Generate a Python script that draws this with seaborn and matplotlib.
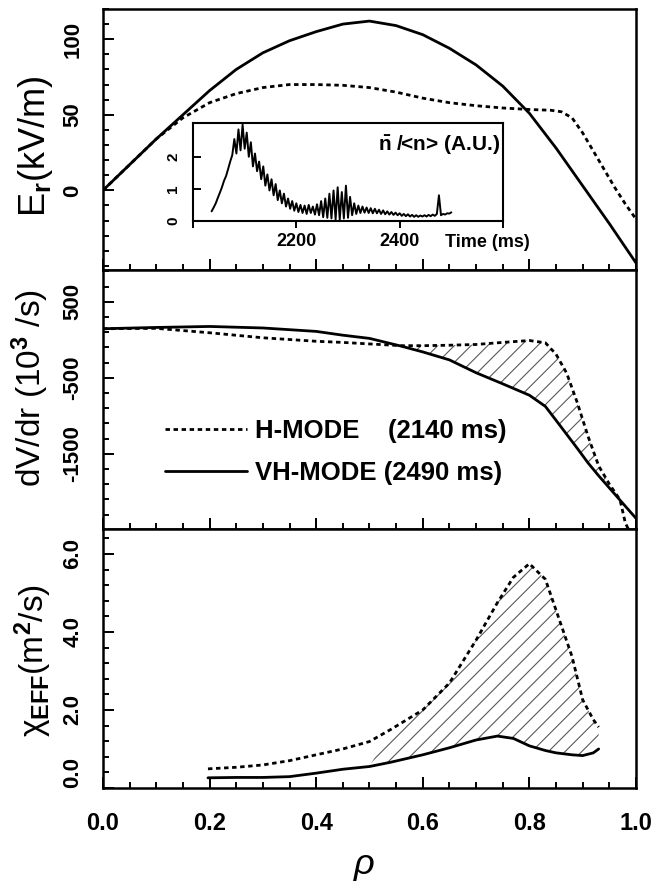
import numpy as np
import matplotlib
matplotlib.use("Agg")
import matplotlib.pyplot as plt
from matplotlib.ticker import MultipleLocator, FixedLocator
import seaborn as sns

# === values ===
# top panel: E_r (kV/m)
rho_er_vh = [0.0, 0.05, 0.10, 0.15, 0.20, 0.25, 0.30, 0.35, 0.40, 0.45, 0.50,
             0.55, 0.60, 0.65, 0.70, 0.75, 0.80, 0.85, 0.90, 0.95, 1.0]
er_vh = [0, 17, 34, 50, 66, 80, 91, 99, 105, 110, 112,
         109, 103, 94, 83, 69, 51, 28, 3, -22, -48]
rho_er_h = [0.0, 0.05, 0.10, 0.15, 0.20, 0.25, 0.30, 0.35, 0.40, 0.45, 0.50,
            0.55, 0.60, 0.65, 0.70, 0.75, 0.80, 0.84, 0.86, 0.88, 0.90,
            0.92, 0.94, 0.96, 0.98, 1.0]
er_h = [0, 17, 34, 48, 58, 64, 68, 70, 70, 69.5, 68,
        65, 61, 58, 56, 54.5, 53.5, 53, 52, 48, 38,
        26, 14, 2, -9, -19]

# middle panel: dV/dr (10^3 /s)
rho_dv = [0.0, 0.1, 0.2, 0.3, 0.4, 0.45, 0.5, 0.56, 0.6, 0.65, 0.7, 0.75,
          0.8, 0.83, 0.85, 0.87, 0.89, 0.91, 0.93, 0.95, 0.97, 0.98, 1.0]
dv_vh = [145, 162, 175, 155, 110, 60, 18, -85, -160, -265, -434, -580,
         -730, -877, -1060, -1245, -1430, -1620, -1790, -1950, -2110, -2190, -2350]
dv_h = [145, 150, 92, 26, -20, -35, -55, -78, -78, -72, -62, -35,
        -10, -40, -190, -440, -830, -1270, -1660, -1900, -2105, -2410, -2700]

# bottom panel: chi_EFF (m^2/s)
rho_chi = [0.197, 0.25, 0.30, 0.35, 0.40, 0.45, 0.50, 0.54, 0.60, 0.65,
           0.70, 0.74, 0.77, 0.80, 0.83, 0.85, 0.88, 0.90, 0.92, 0.93]
chi_vh = [0.26, 0.27, 0.27, 0.29, 0.38, 0.48, 0.55, 0.66, 0.85, 1.03,
          1.23, 1.33, 1.27, 1.08, 0.96, 0.90, 0.85, 0.83, 0.90, 1.0]
chi_h = [0.49, 0.53, 0.59, 0.70, 0.85, 1.0, 1.19, 1.50, 2.0, 2.69,
         3.79, 4.75, 5.4, 5.75, 5.35, 4.56, 3.37, 2.26, 1.75, 1.56]

# inset: n~/<n> (A.U.) vs time, sampled every 4 ms
t_inset = np.arange(2036, 2501, 4)
n_inset = [0.30, 0.42, 0.55, 0.72, 0.88, 1.05, 1.25, 1.40, 1.62, 1.85,   # 2036-2072
           2.05, 2.55, 2.10, 2.85, 2.20, 3.00, 2.25, 2.75, 2.00, 2.45,   # 2076-2112
           1.70, 2.10, 1.55, 1.85, 1.30, 1.70, 1.10, 1.45, 0.95, 1.30,   # 2116-2152
           0.80, 1.15, 0.65, 0.95, 0.55, 0.85, 0.45, 0.70, 0.38, 0.62,   # 2156-2192
           0.32, 0.55, 0.28, 0.50, 0.25, 0.48, 0.22, 0.50, 0.25, 0.45,   # 2196-2232
           0.20, 0.52, 0.18, 0.62, 0.12, 0.70, 0.10, 0.85, 0.08, 0.95,   # 2236-2272
           0.05, 1.05, 0.04, 0.90, 0.08, 1.10, 0.10, 0.75, 0.18, 0.55,   # 2276-2312
           0.22, 0.48, 0.25, 0.45, 0.26, 0.42, 0.25, 0.40, 0.24, 0.38,   # 2316-2352
           0.24, 0.35, 0.22, 0.33, 0.21, 0.30, 0.20, 0.28, 0.19, 0.26,   # 2356-2392
           0.18, 0.24, 0.16, 0.22, 0.15, 0.21, 0.14, 0.19, 0.13, 0.18,   # 2396-2432
           0.13, 0.17, 0.14, 0.18, 0.14, 0.19, 0.15, 0.20, 0.16, 0.22,   # 2436-2472
           0.80, 0.18, 0.22, 0.20, 0.24, 0.23, 0.27]                     # 2476-2500

legend_labels = ["H-MODE    (2140 ms)", "VH-MODE (2490 ms)"]
x_ticks = [0.0, 0.2, 0.4, 0.6, 0.8, 1.0]

# === style ===
sns.set_style("ticks", {"axes.edgecolor": "black", "text.color": "black",
                        "xtick.color": "black", "ytick.color": "black",
                        "axes.labelcolor": "black", "axes.axisbelow": False})
plt.rcParams["font.family"] = ["Liberation Sans", "DejaVu Sans"]
plt.rcParams["font.weight"] = "bold"
plt.rcParams["mathtext.fontset"] = "custom"
plt.rcParams["mathtext.rm"] = "Liberation Sans:bold"
plt.rcParams["mathtext.default"] = "rm"
plt.rcParams["hatch.linewidth"] = 0.8
plt.rcParams["hatch.color"] = "0.35"

DOT = (0, (1.6, 1.3))
LW = 2.0


def tick_marks(ax, which_axis, locs, marker, size, width):
    """Tick marks drawn as markers at the axis locator positions."""
    if which_axis == "x":
        lo, hi = sorted(ax.get_xlim())
        locs = [v for v in locs if lo - 1e-9 <= v <= hi + 1e-9]
        ax.plot(locs, [0] * len(locs), transform=ax.get_xaxis_transform(),
                ls="none", marker=marker, ms=size, mew=width, color="black",
                clip_on=False, zorder=3)
    else:
        lo, hi = sorted(ax.get_ylim())
        locs = [v for v in locs if lo - 1e-9 <= v <= hi + 1e-9]
        ax.plot([0] * len(locs), locs, transform=ax.get_yaxis_transform(),
                ls="none", marker=marker, ms=size, mew=width, color="black",
                clip_on=False, zorder=3)


fig = plt.figure(figsize=(6.6, 8.81), dpi=100)
ax_er = fig.add_axes([0.156, 0.6937, 0.8076, 0.2961])
ax_dv = fig.add_axes([0.156, 0.3996, 0.8076, 0.2941])
ax_chi = fig.add_axes([0.156, 0.1056, 0.8076, 0.2940])
axes = [ax_er, ax_dv, ax_chi]
ins = fig.add_axes([193 / 660, 1 - 221 / 881, 310 / 660, 98 / 881])

# --- top: E_r ---
sns.lineplot(x=rho_er_h, y=er_h, ax=ax_er, color="black", lw=LW, linestyle=DOT, legend=False)
sns.lineplot(x=rho_er_vh, y=er_vh, ax=ax_er, color="black", lw=LW, legend=False)
ax_er.set_ylim(-52.6, 120)
ax_er.set_yticks([0, 50, 100])
ax_er.set_yticklabels(["0", "50", "100"], rotation=90, va="center")
ax_er.yaxis.set_minor_locator(MultipleLocator(10))

# --- middle: dV/dr ---
sns.lineplot(x=rho_dv, y=dv_h, ax=ax_dv, color="black", lw=LW, linestyle=DOT,
             label=legend_labels[0])
sns.lineplot(x=rho_dv, y=dv_vh, ax=ax_dv, color="black", lw=LW, label=legend_labels[1])
rd = np.array(rho_dv)
ax_dv.fill_between(rho_dv, dv_vh, dv_h, where=(rd >= 0.56) & (np.array(dv_h) >= np.array(dv_vh)),
                   interpolate=True, facecolor="none", edgecolor="0.35", hatch="//", linewidth=0)
ax_dv.set_ylim(-2490, 920)
ax_dv.set_yticks([500, -500, -1500])
ax_dv.set_yticklabels(["500", "-500", "-1500"], rotation=90, va="center")
ax_dv.yaxis.set_minor_locator(FixedLocator(np.arange(-2300, 901, 200)))
ax_dv.legend(loc="center left", bbox_to_anchor=(0.116, 0.296), frameon=False,
             fontsize=18.5, handlelength=3.2, handletextpad=0.3, labelspacing=0.7,
             borderpad=0, borderaxespad=0)

# --- bottom: chi_EFF ---
sns.lineplot(x=rho_chi, y=chi_h, ax=ax_chi, color="black", lw=LW, linestyle=DOT, legend=False)
sns.lineplot(x=rho_chi, y=chi_vh, ax=ax_chi, color="black", lw=LW, legend=False)
rc = np.array(rho_chi)
ax_chi.fill_between(rho_chi, chi_vh, chi_h, where=rc >= 0.54, interpolate=True,
                    facecolor="none", edgecolor="0.35", hatch="//", linewidth=0)
ax_chi.set_ylim(0, 6.64)
ax_chi.set_yticks([0, 2, 4, 6])
ylabs = ax_chi.set_yticklabels(["0.0", "2.0", "4.0", "6.0"], rotation=90, va="center")
ylabs[0].set_va("bottom")
ax_chi.yaxis.set_minor_locator(MultipleLocator(0.4))

for ax in axes:
    ax.set_xlim(0, 1)
    ax.set_xticks(x_ticks)
    ax.xaxis.set_minor_locator(MultipleLocator(0.05))
ax_er.set_xticklabels([])
ax_dv.set_xticklabels([])
ax_chi.set_xticklabels([f"{v:.1f}" for v in x_ticks])

ax_er.set_ylabel("E$_r$(kV/m)", fontsize=26, va="center")
ax_er.yaxis.set_label_coords(-0.126, 0.475)
ax_dv.set_ylabel("dV/dr (10$^3$ /s)", fontsize=24, va="center")
ax_dv.yaxis.set_label_coords(-0.137, 0.544)
ax_chi.set_ylabel("χ$_{EFF}$(m$^2$/s)", fontsize=24, va="center")
ax_chi.yaxis.set_label_coords(-0.131, 0.494)
ax_er.set_xlabel("")
ax_dv.set_xlabel("")
ax_chi.set_xlabel("ρ", fontsize=26, fontstyle="italic", fontweight="normal", va="center")
ax_chi.xaxis.set_label_coords(0.49, -0.297)

# --- inset ---
ins.set_facecolor("white")
sns.lineplot(x=t_inset, y=n_inset, ax=ins, color="black", lw=1.4, legend=False)
ins.set_xlim(2000, 2600)
ins.set_ylim(0, 3.05)
ins.set_xticks([2000, 2200, 2400, 2600])
ins.set_xticklabels(["", "2200", "2400", ""])
ins.set_yticks([0, 1, 2])
ins.set_yticklabels(["0", "1", "2"], rotation=90, va="center")
ins.set_xlabel("")
ins.set_ylabel("")
ins.text(0.813, -0.224, "Time (ms)", transform=ins.transAxes, fontsize=13,
         ha="left", va="center")
ins.text(0.99, 0.776, r"$\bar{n}$ /<n> (A.U.)", transform=ins.transAxes, fontsize=15,
         ha="right", va="center")

# tick styling applied last
for ax in axes:
    ax.tick_params(which="both", direction="in", length=8, width=1.3, color="black",
                   left=True, bottom=True, right=False, top=False)
    ax.tick_params(which="minor", length=4, width=1.2)
    ax.tick_params(axis="y", labelsize=16, pad=14)
    ax.tick_params(axis="x", labelsize=17, pad=17)
    for s in ax.spines.values():
        s.set_linewidth(1.8)
ins.tick_params(axis="x", direction="out", length=5, width=1.2, labelsize=13, pad=4,
                color="black", bottom=True)
ins.tick_params(axis="y", direction="in", length=6, width=1.2, labelsize=11, pad=9,
                color="black", left=True)
for s in ins.spines.values():
    s.set_linewidth(1.5)

# tick marks also drawn as markers at the locator positions, so they show
# regardless of how the axis ticks end up rendered
for ax in axes:
    tick_marks(ax, "x", ax.xaxis.get_majorticklocs(), 2, 8, 1.3)
    tick_marks(ax, "x", ax.xaxis.get_minorticklocs(), 2, 4, 1.2)
    tick_marks(ax, "y", ax.yaxis.get_majorticklocs(), 1, 8, 1.3)
    tick_marks(ax, "y", ax.yaxis.get_minorticklocs(), 1, 4, 1.2)
tick_marks(ins, "x", ins.xaxis.get_majorticklocs(), 3, 5, 1.2)
tick_marks(ins, "y", ins.yaxis.get_majorticklocs(), 1, 6, 1.2)

plt.savefig("out.png", dpi=100)
